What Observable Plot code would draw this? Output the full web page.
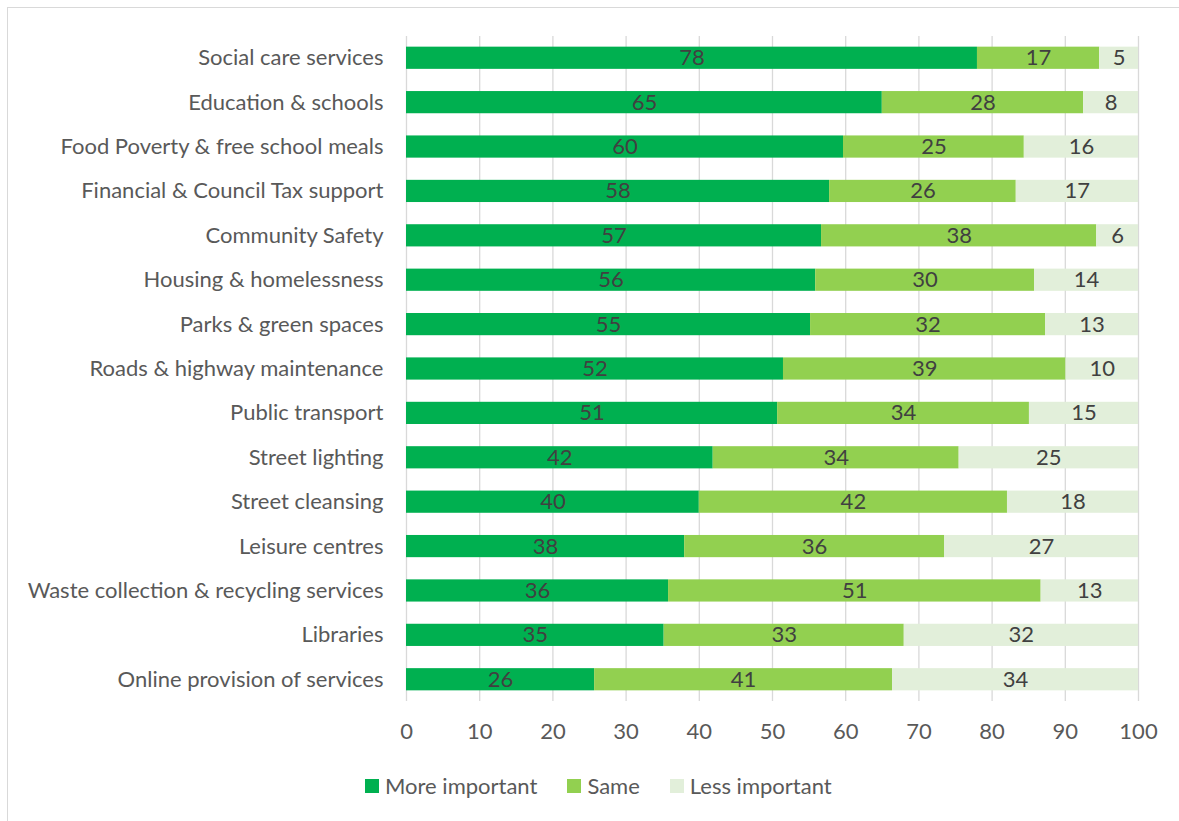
<!DOCTYPE html>
<html>
<head>
<meta charset="utf-8">
<script src="https://cdn.jsdelivr.net/npm/d3@7"></script>
<script src="https://cdn.jsdelivr.net/npm/@observablehq/plot@0.6"></script>
<style>
  html, body { margin: 0; padding: 0; background: #fff; }
  #wrap { position: relative; width: 1179px; height: 821px; overflow: hidden; font-family: Lato, "Open Sans", sans-serif; }
  #border { position: absolute; left: 7px; top: 7px; width: 1200px; height: 900px; border-left: 1.5px solid #d9d9d9; border-top: 1.5px solid #d9d9d9; box-sizing: border-box; }
  #chart { position: absolute; left: 0; top: 0; }
  #legend { position: absolute; top: 772px; left: 365px; display: flex; align-items: center; font-size: 22px; color: #595959; white-space: nowrap; }
  .item { display: flex; align-items: center; margin-right: 30px; }
  .sw { width: 14px; height: 14px; margin-right: 6px; }
</style>
</head>
<body>
<div id="wrap">
  <div id="border"></div>
  <div id="chart"></div>
  <div id="legend"></div>
</div>
<script>
const categories = [
  "Social care services",
  "Education & schools",
  "Food Poverty & free school meals",
  "Financial & Council Tax support",
  "Community Safety",
  "Housing & homelessness",
  "Parks & green spaces",
  "Roads & highway maintenance",
  "Public transport",
  "Street lighting",
  "Street cleansing",
  "Leisure centres",
  "Waste collection & recycling services",
  "Libraries",
  "Online provision of services"
];
const moreImportant = [78.0, 65.0, 59.7, 57.8, 56.7, 55.9, 55.2, 51.5, 50.7, 41.9, 40.0, 38.0, 35.8, 35.2, 25.7];
const same          = [16.7, 27.5, 24.7, 25.5, 37.6, 29.9, 32.1, 38.6, 34.4, 33.6, 42.1, 35.5, 50.9, 32.8, 40.7];
const lessImportant = [ 5.3,  7.5, 15.6, 16.7,  5.7, 14.2, 12.7,  9.9, 14.9, 24.5, 17.9, 26.5, 13.3, 32.0, 33.6];
const seriesNames = ["More important", "Same", "Less important"];
const seriesColors = ["#00b050", "#92d050", "#e2efda"];
const xTicks = [0, 10, 20, 30, 40, 50, 60, 70, 80, 90, 100];

const seriesValues = [moreImportant, same, lessImportant];
const data = [];
seriesNames.forEach((s, si) => {
  categories.forEach((c, ci) => {
    data.push({category: c, series: s, value: seriesValues[si][ci]});
  });
});

const chart = Plot.plot({
  width: 1179,
  height: 760,
  marginLeft: 406,
  marginRight: 41,
  marginTop: 36,
  marginBottom: 59,
  style: {fontFamily: "Lato, 'Open Sans', sans-serif", background: "transparent"},
  x: {domain: [0, 100], label: null},
  y: {domain: categories, paddingInner: 0.5, paddingOuter: 0.24, round: false, label: null},
  color: {domain: seriesNames, range: seriesColors},
  marks: [
    Plot.gridX(xTicks, {stroke: "#d9d9d9", strokeOpacity: 1, strokeWidth: 1.3}),
    Plot.barX(data, {x: "value", y: "category", fill: "series", z: "series", order: seriesNames}),
    Plot.text(data, Plot.stackX({x: "value", y: "category", z: "series", order: seriesNames,
      text: d => String(Math.round(d.value)), fill: "#404040", fontSize: 22})),
    Plot.axisX(xTicks, {tickSize: 0, tickPadding: 22, fontSize: 22, color: "#595959", fill: "#595959", tickFormat: d => String(d)}),
    Plot.axisY({tickSize: 0, tickPadding: 23, fontSize: 22, fill: "#595959"})
  ]
});
document.getElementById("chart").appendChild(chart);

const legend = document.getElementById("legend");
seriesNames.forEach((s, i) => {
  const item = document.createElement("div");
  item.className = "item";
  const sw = document.createElement("div");
  sw.className = "sw";
  sw.style.background = seriesColors[i];
  const t = document.createElement("span");
  t.textContent = s;
  item.appendChild(sw);
  item.appendChild(t);
  legend.appendChild(item);
});
</script>
</body>
</html>
